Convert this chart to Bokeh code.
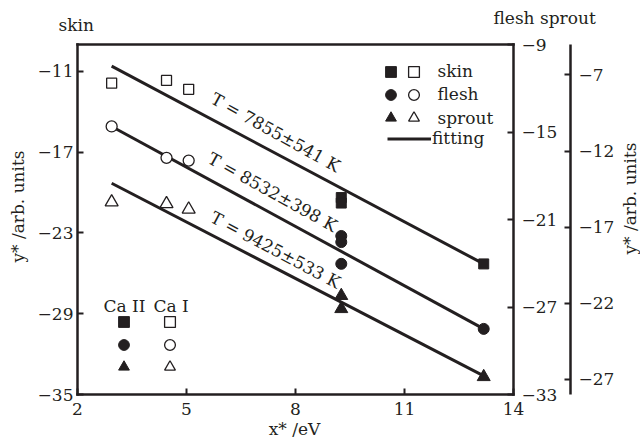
import math
from bokeh.plotting import figure
from bokeh.models import Range1d, LinearAxis, FixedTicker, Legend, LegendItem, Label
from bokeh.embed import file_html
from bokeh.resources import INLINE

# ---------------- data ----------------
x_ticks = [2, 5, 8, 11, 14]
skin_ticks = [-35, -29, -23, -17, -11]
flesh_ticks = [-33, -27, -21, -15, -9]
sprout_ticks = [-27, -22, -17, -12, -7]

x_lim = (2, 14)
skin_lim = (-35, -9)
flesh_lim = (-33, -9)
sprout_lim = (-28, -5)

ca1_x = [2.94, 4.45, 5.06]
skin_ca1 = [-11.87, -11.67, -12.33]
flesh_ca1 = [-14.62, -16.77, -16.96]
sprout_ca1 = [-15.36, -15.47, -15.83]

skin_ca2_x = [9.26, 9.26, 13.18]
skin_ca2 = [-20.37, -20.78, -25.30]
flesh_ca2_x = [9.26, 9.26, 9.26, 13.18]
flesh_ca2 = [-22.13, -22.55, -24.04, -28.50]
sprout_ca2_x = [9.26, 9.26, 13.18]
sprout_ca2 = [-21.51, -22.37, -26.84]

fit_x = [2.94, 13.18]
skin_fit = [-10.61, -25.30]
flesh_fit = [-14.62, -28.50]
sprout_fit = [-14.12, -26.78]

temps = ["7855±541", "8532±398", "9425±533"]
series_names = ["skin", "flesh", "sprout"]

# ---------------- geometry (canvas px) ----------------
INK = "#231f20"
FONT = "DejaVu Serif"
W, H = 640, 445
L, R, T, B = 77, 513, 44, 394   # visible plot box inside the canvas


def ext(lim, pad_lo, pad_hi, span):
    lo, hi = lim
    per = span / (hi - lo)
    return lo - pad_lo / per, hi + pad_hi / per


xr = ext(x_lim, L, W - R, R - L)
yr = ext(skin_lim, H - B, T, B - T)
fr = ext(flesh_lim, H - B, T, B - T)
sr = ext(sprout_lim, H - B, T, B - T)


def dx(px):
    return xr[0] + px / W * (xr[1] - xr[0])


def dy(py):
    return yr[1] - py / H * (yr[1] - yr[0])


p = figure(width=W, height=H, x_range=Range1d(*xr), y_range=Range1d(*yr),
           output_backend="svg", toolbar_location=None, title=None,
           x_axis_location=None, y_axis_location=None,
           min_border=0, min_border_left=0, min_border_right=0,
           min_border_top=0, min_border_bottom=0)
p.extra_y_ranges = {"flesh": Range1d(*fr), "sprout": Range1d(*sr)}
p.grid.visible = False
p.outline_line_alpha = 0
p.background_fill_color = "white"
p.border_fill_color = "white"


def minus(v):
    return ("\u2212" + str(abs(v))) if v < 0 else str(v)


def make_axis(side, ticks, loc, bounds, standoff, y_range_name="default"):
    if side in ("left", "right"):
        ax = LinearAxis(y_range_name=y_range_name)
    else:
        ax = LinearAxis()
    ax.fixed_location = loc
    ax.bounds = bounds
    ax.ticker = FixedTicker(ticks=ticks)
    ax.major_label_overrides = {t: minus(t) for t in ticks}
    ax.major_tick_in = 6
    ax.major_tick_out = 0
    ax.minor_tick_in = 0
    ax.minor_tick_out = 0
    ax.axis_line_width = 2.5
    ax.axis_line_color = INK
    ax.major_tick_line_width = 2
    ax.major_tick_line_color = INK
    ax.major_label_text_font = FONT
    ax.major_label_text_font_size = "17px"
    ax.major_label_text_color = INK
    ax.major_label_standoff = standoff
    p.add_layout(ax, side)
    return ax


ax_b = make_axis("below", x_ticks, skin_lim[0], x_lim, 8)
ax_t = make_axis("above", [], skin_lim[1], x_lim, 5)
ax_l = make_axis("left", skin_ticks, x_lim[0], skin_lim, 4)
ax_f = make_axis("right", flesh_ticks, x_lim[1], flesh_lim, 8, "flesh")
ax_s = make_axis("right", sprout_ticks, dx(570), sprout_lim, 8, "sprout")
for a in (ax_b, ax_t, ax_l, ax_f):
    a.axis_line_cap = "square"

# ---------------- fit lines ----------------
l_skin = p.line(fit_x, skin_fit, line_color=INK, line_width=3)
l_flesh = p.line(fit_x, flesh_fit, line_color=INK, line_width=3, y_range_name="flesh")
l_sprout = p.line(fit_x, sprout_fit, line_color=INK, line_width=3, y_range_name="sprout")

# ---------------- markers ----------------
open_kw = dict(fill_color="white", line_color=INK, line_width=1.3)
fill_kw = dict(fill_color=INK, line_color=INK, line_width=1)

r_s1 = p.scatter(ca1_x, skin_ca1, marker="square", size=10, **open_kw)
r_f1 = p.scatter(ca1_x, flesh_ca1, marker="circle", size=11, y_range_name="flesh", **open_kw)
r_t1 = p.scatter(ca1_x, sprout_ca1, marker="triangle", size=13, y_range_name="sprout", **open_kw)

r_s2 = p.scatter(skin_ca2_x, skin_ca2, marker="square", size=10, **fill_kw)
r_f2 = p.scatter(flesh_ca2_x, flesh_ca2, marker="circle", size=11, y_range_name="flesh", **fill_kw)
r_t2 = p.scatter(sprout_ca2_x, sprout_ca2, marker="triangle", size=13, y_range_name="sprout", **fill_kw)


# ---------------- texts ----------------
def text(x, y, s, align="center", angle=0.0):
    p.add_layout(Label(x=x, y=y, text=s, angle=angle, text_align=align, text_baseline="middle",
                       text_font=FONT, text_font_size="17px", text_color=INK))


label_pos = [(7.45, -15.52, -29), (7.37, -19.96, -29), (7.45, -24.26, -28)]
for (lx, ly, ang), t in zip(label_pos, temps):
    text(lx, ly, "T = " + t + " K", angle=math.radians(ang))

text(dx(58), dy(24.7), "skin", align="left")
text(dx(493), dy(17.3), "flesh sprout", align="left")
text(dx(17), dy(206), "y* /arb. units", angle=math.pi / 2)
text(dx(629), dy(198), "y* /arb. units", angle=math.pi / 2)
text(dx(294), dy(428), "x* /eV")
text(dx(103), dy(305), "Ca II", align="left")
text(dx(153), dy(305), "Ca I", align="left")


# ---------------- legends (one item each, placed at its row) ----------------
def legend_at(renderer, label, cx, cy, gw=27, gh=27, standoff=5):
    lg = Legend(items=[LegendItem(label=label, renderers=[renderer])],
                location=(cx - gw / 2, H - (cy + gh / 2)), orientation="vertical")
    lg.glyph_width = gw
    lg.glyph_height = gh
    lg.label_height = 20
    lg.spacing = 0
    lg.padding = 0
    lg.margin = 0
    lg.label_standoff = standoff
    lg.border_line_alpha = 0
    lg.background_fill_alpha = 0
    lg.label_text_font = FONT
    lg.label_text_font_size = "17px"
    lg.label_text_color = INK
    p.add_layout(lg)
    return lg


ur_rows = [71, 94, 117.5]
ll_rows = [321, 344.5, 366.5]
filled = (r_s2, r_f2, r_t2)
hollow = (r_s1, r_f1, r_t1)
for cy, rf, ro, name in zip(ur_rows, filled, hollow, series_names):
    legend_at(rf, " ", 390, cy, standoff=0)
    legend_at(ro, name, 413, cy, standoff=11)
legend_at(l_skin, "fitting", 409, 138.3, gw=44, standoff=1)

for cy, rf, ro in zip(ll_rows, filled, hollow):
    legend_at(rf, " ", 123, cy, standoff=0)
    legend_at(ro, " ", 169, cy, standoff=0)

open("out.html", "w").write(file_html(p, INLINE))
